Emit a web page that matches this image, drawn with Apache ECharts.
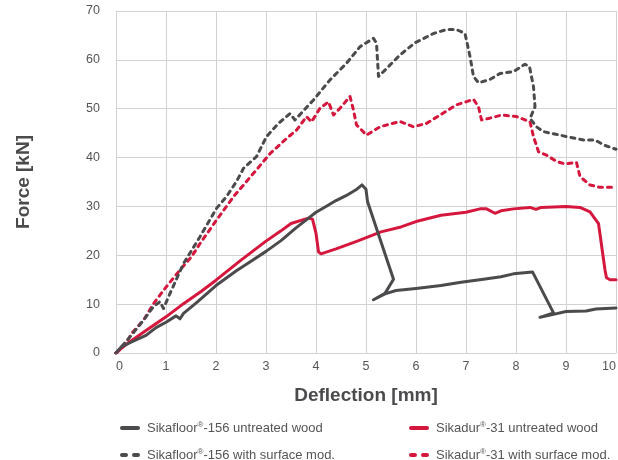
<!DOCTYPE html>
<html>
<head>
<meta charset="utf-8">
<script src="https://cdn.jsdelivr.net/npm/echarts@6/dist/echarts.min.js"></script>
<style>
  html, body { margin: 0; padding: 0; background: #fff; }
  #chart { width: 618px; height: 460px; }
</style>
</head>
<body>
<div id="chart"></div>
<script>
// names of the four test series
var seriesNames = [
  'Sikafloor®-156 untreated wood',
  'Sikadur®-31 untreated wood',
  'Sikafloor®-156 with surface mod.',
  'Sikadur®-31 with surface mod.'
];
var xTicks = [0, 1, 2, 3, 4, 5, 6, 7, 8, 9, 10];
var yTicks = [0, 10, 20, 30, 40, 50, 60, 70];

// [deflection mm, force kN]
var floorUntreated = [[0,0],[0.1,1.2],[0.3,2.2],[0.6,3.6],[0.8,5.2],[1.0,6.3],[1.2,7.6],[1.28,7.0],[1.35,8.1],
  [1.6,10.2],[2.0,13.8],[2.4,16.8],[2.7,18.8],[3.0,20.8],[3.3,23.0],[3.6,25.6],[3.8,27.2],[4.0,28.8],
  [4.2,30.0],[4.4,31.2],[4.6,32.2],[4.7,32.8],[4.8,33.4],[4.92,34.4],[5.0,33.5],[5.03,31.0],[5.55,15.1],
  [5.38,12.2],[5.15,10.9],[5.38,12.1],[5.6,12.8],[6.0,13.2],[6.5,13.8],[6.9,14.5],[7.35,15.1],[7.7,15.6],
  [7.95,16.2],[8.33,16.6],[8.75,8.2],[8.48,7.3],[8.75,7.9],[9.0,8.5],[9.4,8.6],[9.6,9.0],[10,9.2]];

var duraUntreated = [[0,0],[0.18,1.6],[0.35,2.8],[0.6,4.6],[1.0,7.4],[1.35,10.1],[1.7,12.6],[2.0,14.9],
  [2.5,19.0],[3.0,22.9],[3.3,25.0],[3.5,26.5],[3.85,27.6],[3.93,27.4],[4.0,24.5],[4.05,20.7],[4.1,20.3],
  [4.4,21.3],[4.8,22.8],[5.3,24.8],[5.7,25.8],[6.0,26.9],[6.5,28.2],[7.0,28.8],[7.28,29.5],[7.41,29.5],
  [7.58,28.6],[7.7,29.1],[7.95,29.5],[8.28,29.8],[8.4,29.4],[8.5,29.8],[9.0,30.0],[9.28,29.8],[9.48,28.9],
  [9.65,26.5],[9.78,17.0],[9.81,15.4],[9.88,15.0],[10,15.0]];

var floorSurface = [[0,0],[0.28,3.3],[0.55,6.7],[0.75,9.5],[0.88,10.5],[0.95,9.1],[1.08,12.2],[1.35,18.3],
  [1.68,23.8],[2.01,29.6],[2.21,32.0],[2.41,35.1],[2.55,37.8],[2.81,40.2],[3.01,44.3],[3.25,47.0],
  [3.48,49.0],[3.58,47.7],[3.95,51.8],[4.28,55.9],[4.61,59.3],[4.88,62.7],[5.15,64.4],[5.21,63.4],
  [5.25,56.6],[5.38,57.9],[5.68,61.0],[5.98,63.5],[6.35,65.4],[6.61,66.2],[6.81,66.2],[6.98,65.4],
  [7.08,60.7],[7.15,56.6],[7.25,55.3],[7.48,56.0],[7.68,57.2],[7.95,57.6],[8.18,59.1],[8.27,58.6],
  [8.35,54.5],[8.38,50.4],[8.28,48.0],[8.41,46.3],[8.55,45.3],[9.01,44.3],[9.35,43.6],[9.58,43.6],
  [9.75,42.6],[10,41.7]];

var duraSurface = [[0,0],[0.18,1.6],[0.31,4.0],[0.55,6.7],[0.75,10.1],[1.01,13.6],[1.28,17.0],[1.51,19.7],
  [1.68,22.4],[2.01,27.2],[2.35,32.0],[2.81,37.5],[3.08,40.8],[3.41,43.9],[3.61,45.6],[3.81,48.4],
  [3.91,47.3],[4.08,50.1],[4.25,51.4],[4.35,48.7],[4.48,50.1],[4.68,52.5],[4.75,49.7],[4.81,46.7],
  [5.01,44.6],[5.28,46.3],[5.68,47.4],[5.95,46.3],[6.21,47.0],[6.48,48.7],[6.81,50.8],[7.15,51.9],
  [7.25,50.4],[7.31,47.7],[7.45,48.0],[7.71,48.7],[8.01,48.4],[8.28,47.3],[8.35,44.3],[8.45,41.2],
  [8.61,40.5],[8.81,39.2],[8.98,38.7],[9.21,39.0],[9.28,36.1],[9.48,34.4],[9.68,33.9],[10,33.9]];

var GRAY = '#4b4b4d';
var RED = '#d6173d';
var SOLID_ICON = 'path://M2,0h16a2,2 0 0 1 0,4h-16a2,2 0 0 1 0,-4z';
var DASH_ICON = 'path://M2,0h4a2,2 0 0 1 0,4h-4a2,2 0 0 1 0,-4z M14,0h4a2,2 0 0 1 0,4h-4a2,2 0 0 1 0,-4z';

var chart = echarts.init(document.getElementById('chart'));

function legendLabel(name) {
  var parts = name.split('®');
  return '{t|' + parts[0] + '}{s|®}{t|' + parts[1] + '}';
}

function makeLegend(name, icon, left, top) {
  return {
    data: [{ name: name, icon: icon }],
    left: left,
    top: top,
    itemWidth: 20,
    itemHeight: 4,
    itemGap: 0,
    formatter: legendLabel,
    textStyle: {
      padding: [0, 0, 0, 2],
      rich: {
        t: { fontSize: 13, color: '#555', fontFamily: 'Liberation Sans' },
        s: { fontSize: 8, color: '#555', fontFamily: 'Liberation Sans', verticalAlign: 'top', padding: [0, 0, 6, 0] }
      }
    }
  };
}

function makeLine(name, data, color, dashed) {
  return {
    name: name,
    type: 'line',
    data: data,
    showSymbol: false,
    symbol: 'none',
    smooth: false,
    lineStyle: {
      color: color,
      width: 3,
      type: dashed ? [4, 5] : 'solid',
      cap: 'round',
      join: 'round'
    },
    itemStyle: { color: color }
  };
}

var option = {
  animation: false,
  textStyle: { fontFamily: 'Liberation Sans' },
  grid: { left: 116, right: 2, top: 11, bottom: 107, outerBoundsMode: 'none' },
  legend: [
    makeLegend(seriesNames[0], SOLID_ICON, 115, 416),
    makeLegend(seriesNames[1], SOLID_ICON, 404, 416),
    makeLegend(seriesNames[2], DASH_ICON, 115, 443),
    makeLegend(seriesNames[3], DASH_ICON, 404, 443)
  ],
  xAxis: {
    type: 'value',
    min: xTicks[0],
    max: xTicks[xTicks.length - 1],
    interval: 1,
    name: 'Deflection [mm]',
    nameLocation: 'middle',
    nameGap: 33,
    nameTextStyle: { fontSize: 19, fontWeight: 'bold', color: '#4b4b4d' },
    axisLine: { show: true, lineStyle: { color: '#d2d2d2' } },
    axisTick: { show: false },
    axisLabel: { color: '#555', fontSize: 12.5, margin: 7, alignMinLabel: 'left', alignMaxLabel: 'right' },
    splitLine: { show: true, lineStyle: { color: '#d2d2d2', width: 1 } }
  },
  yAxis: {
    type: 'value',
    min: yTicks[0],
    max: yTicks[yTicks.length - 1],
    interval: 10,
    name: 'Force [kN]',
    nameLocation: 'middle',
    nameGap: 83,
    nameTextStyle: { fontSize: 19, fontWeight: 'bold', color: '#4b4b4d' },
    axisLine: { show: true, lineStyle: { color: '#d2d2d2' } },
    axisTick: { show: false },
    axisLabel: { color: '#555', fontSize: 12.5, margin: 16 },
    splitLine: { show: true, lineStyle: { color: '#d2d2d2', width: 1 } }
  },
  series: [
    makeLine(seriesNames[3], duraSurface, RED, true),
    makeLine(seriesNames[2], floorSurface, GRAY, true),
    makeLine(seriesNames[1], duraUntreated, RED, false),
    makeLine(seriesNames[0], floorUntreated, GRAY, false)
  ]
};

chart.setOption(option);
</script>
</body>
</html>
